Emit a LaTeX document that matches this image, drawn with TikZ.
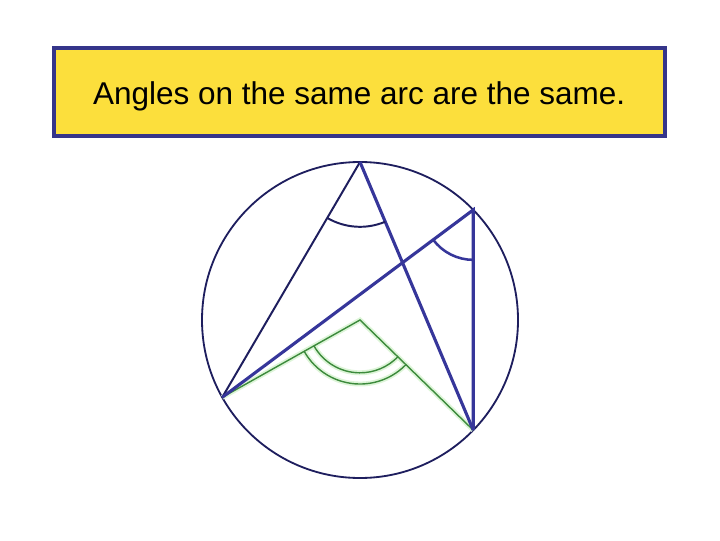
\documentclass[tikz,border=0pt]{standalone}
\usepackage{fontspec}
\setmainfont{Liberation Sans}
\usetikzlibrary{positioning, angles, calc}

\definecolor{boxyellow}{HTML}{FCDF3C}
\definecolor{boxnavy}{HTML}{35358A}
\definecolor{rimnavy}{HTML}{1E1E5E}
\definecolor{chordblue}{HTML}{36369A}
\definecolor{arcgreen}{HTML}{3C8A3C}
\definecolor{glowgreen}{HTML}{DDF5D8}

\begin{document}
\begin{tikzpicture}[
        x=0.025cm, y=0.025cm,
        title/.style={draw=boxnavy, line width=2.8pt, fill=boxyellow, minimum width=15.275cm, minimum height=2.2cm},
        heading/.style={font=\fontsize{22.4}{26}\selectfont, inner sep=0pt},
        rim/.style={draw=rimnavy, line width=1.3pt},
        chord/.style={draw=chordblue, line width=2.2pt},
        thin chord/.style={draw=rimnavy, line width=1.4pt},
        centre line/.style={draw=arcgreen, line width=1pt},
        glow/.style={draw=glowgreen, line width=3.5pt},
        angle mark/.style={draw=chordblue, line width=1.8pt}
    ]
        \useasboundingbox[fill=white] (0,0) rectangle (720,540);

        % Heading
        \node[title] (title) at (359.5,448) {};
        \node[heading, anchor=base] (headtext) at (359.2,435) {Angles on the same arc are the same.};

        % Circle and points on it
        \coordinate (O) at (360,220);
        \draw[rim] (O) circle (158);
        \coordinate (T) at ($(O)+(90:158)$);
        \coordinate (R) at ($(O)+(44.2:158)$);
        \coordinate (L) at ($(O)+(209.3:158)$);
        \coordinate (B) at ($(O)+(-44.2:158)$);

        % Angle at the centre
        \draw[glow] (L) -- (O) -- (B);
        \pic[glow, angle radius=1.32cm] {angle = L--O--B};
        \pic[glow, angle radius=1.6cm] {angle = L--O--B};
        \draw[centre line] (L) -- (O) -- (B);
        \pic[centre line, angle radius=1.32cm] {angle = L--O--B};
        \pic[centre line, angle radius=1.6cm] {angle = L--O--B};

        % Chords
        \draw[thin chord] (T) -- (L);
        \draw[chord] (T) -- (B);
        \draw[chord] (L) -- (R) -- (B);

        % Angles on the circle
        \pic[draw=rimnavy, line width=1.4pt, angle radius=1.62cm] {angle = L--T--B};
        \pic[angle mark, angle radius=1.25cm] {angle = L--R--B};
    \end{tikzpicture}
\end{document}
